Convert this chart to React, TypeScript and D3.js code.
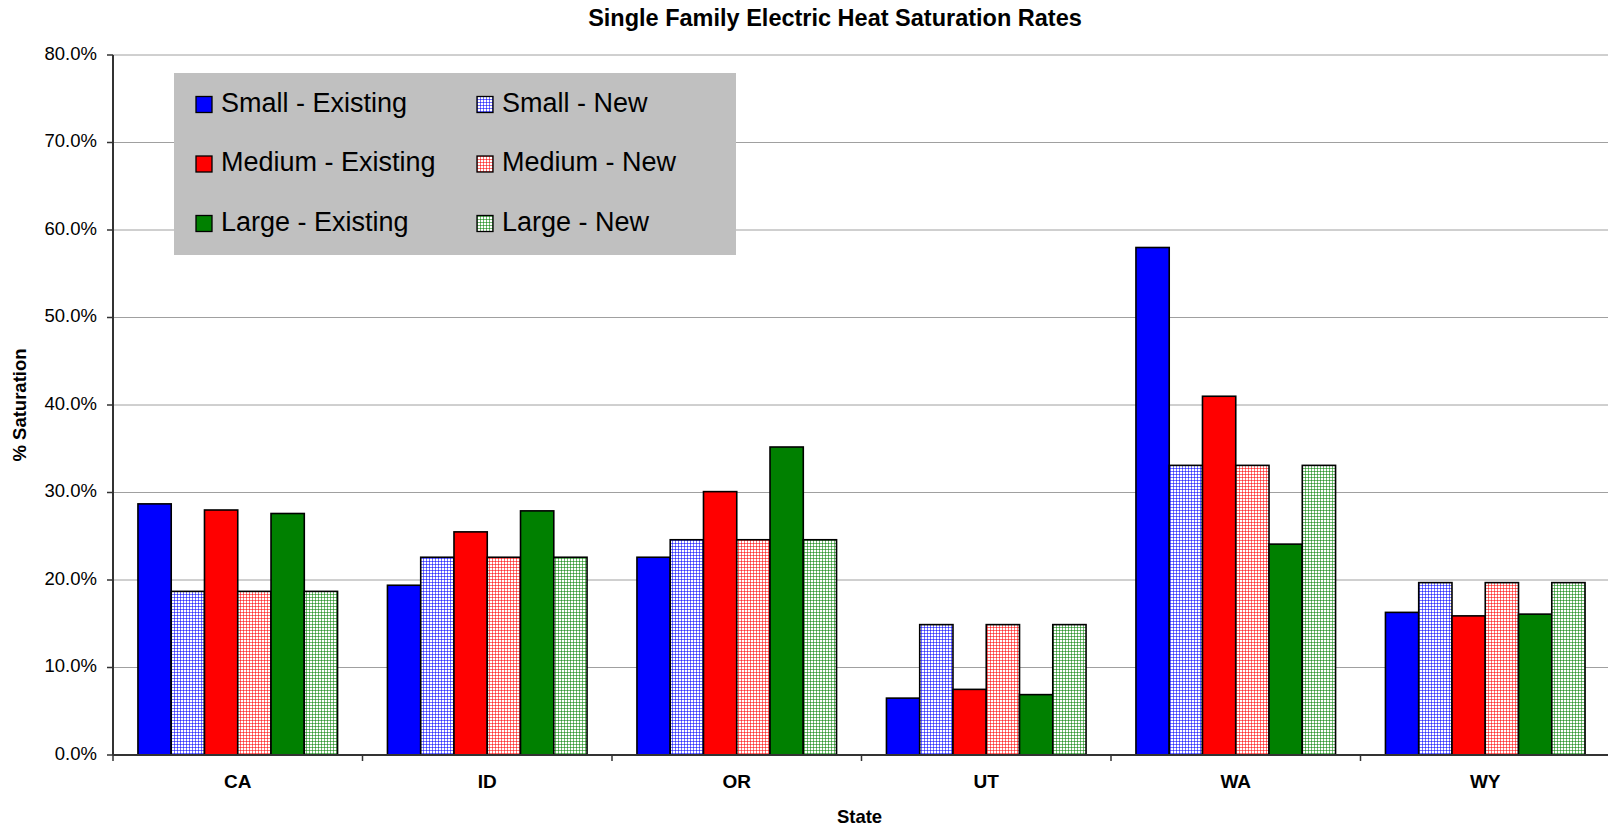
import React from 'react';
import * as d3 from 'd3';

const states = ['CA', 'ID', 'OR', 'UT', 'WA', 'WY'];
const seriesNames = ['Small - Existing', 'Small - New', 'Medium - Existing', 'Medium - New', 'Large - Existing', 'Large - New'];
const smallExisting = [28.7, 19.4, 22.6, 6.5, 58.0, 16.3];
const smallNew = [18.7, 22.6, 24.6, 14.9, 33.1, 19.7];
const mediumExisting = [28.0, 25.5, 30.1, 7.5, 41.0, 15.9];
const mediumNew = [18.7, 22.6, 24.6, 14.9, 33.1, 19.7];
const largeExisting = [27.6, 27.9, 35.2, 6.9, 24.1, 16.1];
const largeNew = [18.7, 22.6, 24.6, 14.9, 33.1, 19.7];
const yTicks = [0, 10, 20, 30, 40, 50, 60, 70, 80];

const seriesValues = [smallExisting, smallNew, mediumExisting, mediumNew, largeExisting, largeNew];
const seriesColors = ['#0000FF', '#0000FF', '#FF0000', '#FF0000', '#008000', '#008000'];
const seriesPatterned = [false, true, false, true, false, true];

const W = 1608;
const H = 829;
const M = { left: 113, right: 1610, top: 55, bottom: 755 };
const FONT = 'Arial, "Liberation Sans", sans-serif';

export default function App() {
  const x = d3.scaleBand<string>().domain(states).range([M.left, M.right]).paddingInner(0).paddingOuter(0);
  const inner = d3
    .scaleBand<string>()
    .domain(seriesNames)
    .range([0, x.bandwidth()])
    .paddingInner(0)
    .paddingOuter(0.75);
  const y = d3.scaleLinear().domain([0, 80]).range([M.bottom, M.top]);
  const fmt = (v: number) => v.toFixed(1) + '%';
  const patId = (i: number) => `pat${i}`;

  const legendX = 174;
  const legendY = 73;
  const legendW = 562;
  const legendH = 182;
  const colX = [196, 477];
  const rowY = [104.5, 164, 223.5];

  return (
    <svg width={W} height={H} style={{ position: 'fixed', left: 0, top: 0, background: '#fff' }} fontFamily={FONT}>
      <defs>
        {seriesNames.map((s, i) =>
          seriesPatterned[i] ? (
            <pattern key={s} id={patId(i)} patternUnits="userSpaceOnUse" width={3} height={3}>
              <rect width={3} height={3} fill="#fff" />
              <rect width={3} height={1} fill={seriesColors[i]} opacity={0.55} />
              <rect width={1} height={3} fill={seriesColors[i]} opacity={0.55} />
            </pattern>
          ) : null
        )}
      </defs>
      <rect width={W} height={H} fill="#fff" />

      {/* title */}
      <text x={835} y={20} textAnchor="middle" dominantBaseline="middle" fontWeight="bold" fontSize={23.5}>
        Single Family Electric Heat Saturation Rates
      </text>

      {/* gridlines */}
      {yTicks.slice(1).map((t) => (
        <line key={t} x1={M.left} x2={W} y1={y(t)} y2={y(t)} stroke="#A0A0A0" strokeWidth={1} />
      ))}

      {/* bars */}
      {states.map((st, si) => (
        <g key={st}>
          {seriesNames.map((s, i) => {
            const v = seriesValues[i][si];
            const bx = (x(st) as number) + (inner(s) as number);
            return (
              <rect
                key={s}
                x={bx}
                y={y(v)}
                width={inner.bandwidth()}
                height={y(0) - y(v)}
                fill={seriesPatterned[i] ? `url(#${patId(i)})` : seriesColors[i]}
                stroke="#000"
                strokeWidth={1.6}
              />
            );
          })}
        </g>
      ))}

      {/* axes */}
      <line x1={M.left} x2={M.left} y1={M.top} y2={M.bottom} stroke="#333" strokeWidth={2} />
      <line x1={M.left} x2={W} y1={M.bottom} y2={M.bottom} stroke="#333" strokeWidth={2} />
      {yTicks.map((t) => (
        <g key={t}>
          <line x1={M.left - 6} x2={M.left} y1={y(t)} y2={y(t)} stroke="#333" strokeWidth={1.5} />
          <text x={97} y={y(t)} textAnchor="end" dominantBaseline="middle" fontSize={18.5}>
            {fmt(t)}
          </text>
        </g>
      ))}
      {states.map((st) => (
        <line
          key={st}
          x1={x(st) as number}
          x2={x(st) as number}
          y1={M.bottom}
          y2={M.bottom + 6}
          stroke="#333"
          strokeWidth={1.5}
        />
      ))}
      {states.map((st) => (
        <text
          key={st}
          x={(x(st) as number) + x.bandwidth() / 2}
          y={783}
          textAnchor="middle"
          dominantBaseline="middle"
          fontWeight="bold"
          fontSize={19}
        >
          {st}
        </text>
      ))}
      <text x={(M.left + M.right) / 2 - 2} y={818} textAnchor="middle" dominantBaseline="middle" fontWeight="bold" fontSize={18.5}>
        State
      </text>
      <text
        transform={`translate(21, ${(M.top + M.bottom) / 2}) rotate(-90)`}
        textAnchor="middle"
        dominantBaseline="middle"
        fontWeight="bold"
        fontSize={18.5}
      >
        % Saturation
      </text>

      {/* legend */}
      <rect x={legendX} y={legendY} width={legendW} height={legendH} fill="#C0C0C0" />
      {seriesNames.map((s, i) => {
        const cx = colX[i % 2];
        const cy = rowY[Math.floor(i / 2)];
        return (
          <g key={s}>
            <rect
              x={cx}
              y={cy - 8}
              width={16}
              height={16}
              fill={seriesPatterned[i] ? `url(#${patId(i)})` : seriesColors[i]}
              stroke="#000"
              strokeWidth={1.3}
            />
            <text x={cx + 25} y={cy} dominantBaseline="middle" fontSize={27}>
              {s}
            </text>
          </g>
        );
      })}
    </svg>
  );
}
